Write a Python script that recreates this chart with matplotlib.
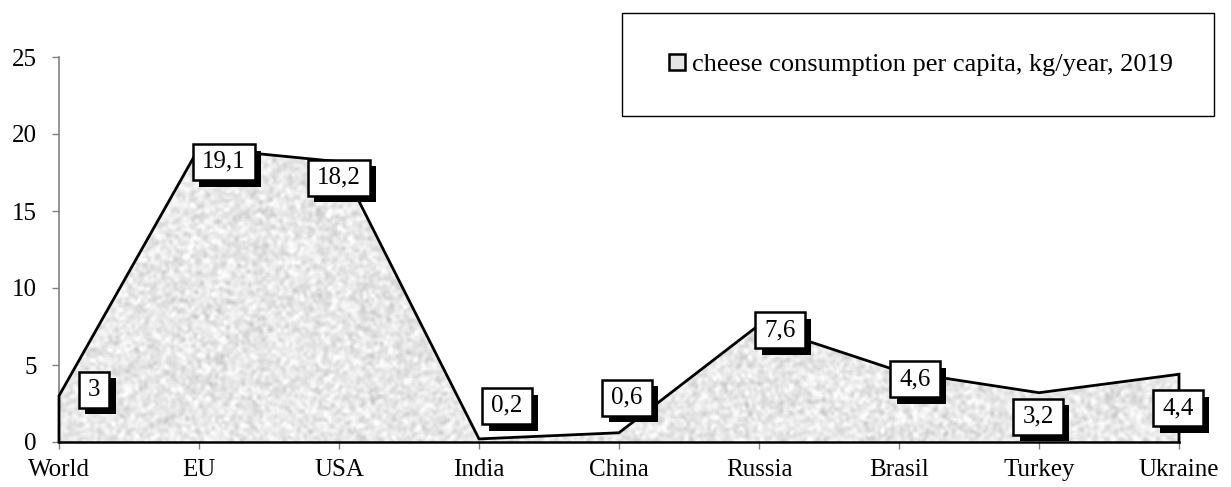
import numpy as np
import matplotlib
matplotlib.use("Agg")
import matplotlib.pyplot as plt
from matplotlib import patheffects
from matplotlib.patches import Patch, Rectangle, PathPatch
from matplotlib.path import Path

plt.rcParams['font.family'] = ['Liberation Serif', 'DejaVu Serif']

countries = ["World", "EU", "USA", "India", "China", "Russia", "Brasil", "Turkey", "Ukraine"]
consumption = [3, 19.1, 18.2, 0.2, 0.6, 7.6, 4.6, 3.2, 4.4]
value_labels = ["3", "19,1", "18,2", "0,2", "0,6", "7,6", "4,6", "3,2", "4,4"]
series_name = "cheese consumption per capita, kg/year, 2019"
y_ticks = [0, 5, 10, 15, 20, 25]

# label box offsets from each point, in pixels (x right, y up)
label_offsets = [(35, 6), (25, -14), (0, -16), (28, 33), (8, 35),
                 (21, -5), (16, -8), (-1, -24), (-1, -34)]

FS = 18
W, H = 1231, 487

fig = plt.figure(figsize=(W / 100, H / 100), dpi=100)
ax = fig.add_axes([59 / W, (H - 442) / H, 1120 / W, 385 / H])

x = np.arange(len(countries))
y = np.array(consumption)

ax.set_xlim(0, len(countries) - 1)
ax.set_ylim(0, 25)

# granite-like grey texture clipped to the filled area
rng = np.random.default_rng(7)
coarse = rng.normal(0, 1, (130, 380))
fine = rng.normal(0, 1, (260, 760))
tex = np.kron(coarse, np.ones((2, 2))) * 0.55 + fine * 0.45
pad = np.pad(tex, 1, mode='edge')
sm = sum(pad[i:i + tex.shape[0], j:j + tex.shape[1]]
         for i in range(3) for j in range(3)) / 9.0
gray = np.clip(0.91 + 0.038 * sm / sm.std(), 0.77, 0.99)
img = ax.imshow(gray, cmap='gray', vmin=0, vmax=1,
                extent=(0, len(countries) - 1, 0, 25),
                aspect='auto', interpolation='bilinear', zorder=1)
verts = [(0, 0)] + list(zip(x, y)) + [(x[-1], 0), (0, 0)]
poly = PathPatch(Path(verts), facecolor='none', edgecolor='none',
                 transform=ax.transData)
ax.add_patch(poly)
img.set_clip_path(poly)

# outline of the area
ox = [0] + list(x) + [x[-1]]
oy = [0] + list(y) + [0]
ax.plot(ox, oy, color='black', lw=2.0, zorder=3, solid_joinstyle='miter',
        clip_on=False)


def label_box(x0, y0, width, height, mutation_size):
    """Square box with wider horizontal than vertical padding."""
    px = 0.36 * mutation_size
    py = 0.28 * mutation_size
    x0, y0 = x0 - px, y0 - py
    x1, y1 = x0 + width + 2 * px, y0 + height + 2 * py
    return Path([(x0, y0), (x1, y0), (x1, y1), (x0, y1), (x0, y0)],
                closed=True)


# value labels in shadowed boxes
for xi, yi, lab, (dx, dy) in zip(x, y, value_labels, label_offsets):
    t = ax.annotate(lab, (xi, yi), xytext=(dx, dy), textcoords='offset pixels',
                    ha='center', va='center', fontsize=FS, zorder=5,
                    bbox=dict(boxstyle=label_box, facecolor='white',
                              edgecolor='black', linewidth=1.8))
    t.get_bbox_patch().set_path_effects([
        patheffects.SimplePatchShadow(offset=(4.5, -4.8),
                                      shadow_rgbFace='black', alpha=1.0),
        patheffects.Normal()])

ax.set_xticks(x)
ax.set_xticklabels(countries, fontsize=FS)
ax.set_yticks(y_ticks)
ax.set_yticklabels([str(v) for v in y_ticks], fontsize=FS)
ax.tick_params(axis='y', direction='out', length=5, width=1,
               color='#808080', pad=11)
ax.tick_params(axis='x', direction='out', length=5, width=1,
               color='#808080', pad=7)

for s in ('top', 'right'):
    ax.spines[s].set_visible(False)
ax.spines['left'].set_color('#808080')
ax.spines['left'].set_linewidth(1.2)
ax.spines['bottom'].set_color('black')
ax.spines['bottom'].set_linewidth(1.8)
ax.spines['bottom'].set_zorder(4)

# legend box
fig.add_artist(Rectangle((622 / W, (H - 116) / H), 592 / W, 103 / H,
                         transform=fig.transFigure, facecolor='white',
                         edgecolor='black', linewidth=1.0, zorder=6))
handle = Patch(facecolor='#e6e6e6', edgecolor='black', linewidth=1.8)
leg = fig.legend([handle], [series_name], loc='center',
                 bbox_to_anchor=(921 / W, (H - 65) / H),
                 frameon=False, fontsize=19, handlelength=0.6,
                 handleheight=0.6, handletextpad=0.25)
leg.set_zorder(7)

fig.savefig("out.png", dpi=100)
